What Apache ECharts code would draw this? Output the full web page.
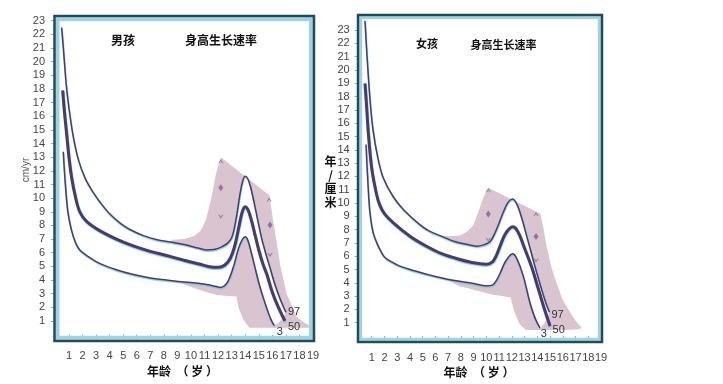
<!DOCTYPE html>
<html><head><meta charset="utf-8">
<script src="https://cdn.jsdelivr.net/npm/echarts@6/dist/echarts.min.js"></script>
<style>html,body{margin:0;padding:0;background:#fff}#c{width:723px;height:384px}</style>
</head><body><div id="c"></div>
<script>
// tick labels
const xTicks = [1,2,3,4,5,6,7,8,9,10,11,12,13,14,15,16,17,18,19];
const yTicks = [1,2,3,4,5,6,7,8,9,10,11,12,13,14,15,16,17,18,19,20,21,22,23];

// Boys height velocity percentiles [age, cm/yr]
const boys97 = [[0.46,22.5],[0.6,20.8],[0.8,18.3],[1.0,16.6],[1.3,14.6],[1.7,12.8],[2.2,11.45],[2.8,10.4],[3.3,9.7],[4.0,8.85],[4.8,8.15],[5.5,7.7],[6.5,7.25],[7.5,6.95],[8.5,6.78],[9.5,6.6],[10.5,6.35],[11.2,6.2],[11.8,6.25],[12.3,6.45],[12.7,6.7],[13.0,7.1],[13.2,7.8],[13.4,8.9],[13.6,10.2],[13.8,11.2],[14.0,11.6],[14.2,11.4],[14.4,10.8],[14.65,9.7],[14.9,8.5],[15.2,7.1],[15.5,6.0],[15.8,5.0],[16.2,3.65],[16.6,2.55],[17.0,1.65]];
const boys50 = [[0.54,17.9],[0.65,16.5],[0.83,14.7],[1.0,13.0],[1.2,11.5],[1.5,10.0],[1.8,9.0],[2.3,8.3],[3.3,7.6],[4.5,7.0],[5.75,6.5],[7.0,6.1],[8.2,5.8],[9.5,5.45],[10.7,5.15],[11.5,4.95],[12.0,4.93],[12.5,5.1],[12.9,5.6],[13.2,6.4],[13.45,7.5],[13.7,8.7],[13.85,9.2],[14.0,9.37],[14.2,9.15],[14.45,8.4],[14.7,7.4],[15.0,6.2],[15.3,5.2],[15.6,4.4],[16.0,3.1],[16.4,2.1],[16.93,1.0]];
const boys3 = [[0.58,13.4],[0.71,11.3],[0.85,9.6],[0.95,8.8],[1.2,7.6],[1.5,6.7],[1.8,6.2],[2.3,5.8],[3.3,5.2],[4.5,4.75],[5.75,4.4],[7.0,4.15],[8.2,4.0],[9.5,3.85],[10.66,3.75],[11.5,3.6],[12.2,3.46],[12.6,3.7],[12.9,4.3],[13.2,5.2],[13.5,6.3],[13.8,7.0],[14.0,7.17],[14.2,6.9],[14.45,6.0],[14.7,5.0],[15.0,3.8],[15.3,2.8],[15.6,1.9],[15.9,1.1],[16.15,0.65]];
const boysBand = [[8.6,6.95],[9.5,7.0],[10.2,7.2],[10.7,7.6],[11.1,8.4],[11.5,10.0],[11.85,11.8],[12.2,13.0],[15.8,10.2],[16.05,8.4],[16.3,6.9],[16.6,5.0],[17.05,3.0],[17.8,1.3],[18.3,0.9],[18.85,0.6],[18.7,0.5],[14.3,0.5],[13.85,1.1],[13.5,2.0],[13.35,2.8],[12.5,2.85],[11.9,2.9],[10.7,3.25],[9.7,3.6],[9.2,3.85]];
const boysDiamond = [[12.2,10.76],[15.83,8.03]];
const boysUp = [[12.2,12.7],[15.77,9.9]];
const boysDown = [[12.2,8.64],[15.83,5.83]];

// Girls height velocity percentiles [age, cm/yr]
const girls97 = [[0.47,23.7],[0.6,21.5],[0.86,17.8],[1.1,15.5],[1.5,13.3],[1.9,11.9],[2.7,10.45],[3.5,9.5],[4.8,8.35],[5.5,7.9],[6.6,7.45],[7.5,7.1],[8.7,6.85],[9.24,6.75],[9.8,6.85],[10.3,7.1],[10.7,7.8],[11.0,8.5],[11.33,9.3],[11.7,10.05],[12.06,10.3],[12.4,9.9],[12.8,8.8],[13.2,7.4],[13.6,6.0],[14.0,4.6],[14.4,3.3],[14.7,2.4],[14.95,1.8]];
const girls50 = [[0.47,19.0],[0.6,17.2],[0.73,15.3],[1.0,12.6],[1.39,10.6],[1.65,9.8],[2.0,9.2],[2.7,8.5],[4.0,7.5],[5.3,6.75],[6.6,6.15],[7.93,5.75],[9.0,5.5],[10.0,5.4],[10.5,5.6],[10.8,6.1],[11.07,6.75],[11.5,7.7],[12.06,8.22],[12.3,8.1],[12.6,7.6],[13.0,6.6],[13.55,5.2],[14.0,3.8],[14.5,2.2],[15.0,0.75]];
const girls3 = [[0.55,14.4],[0.7,11.5],[0.86,9.25],[1.1,7.8],[1.4,7.0],[1.65,6.5],[2.04,5.9],[3.0,5.35],[4.0,5.0],[5.3,4.65],[6.6,4.35],[8.0,4.1],[9.0,3.95],[10.0,3.78],[10.5,3.85],[10.8,4.2],[11.07,4.7],[11.5,5.6],[12.06,6.18],[12.4,5.8],[12.9,4.5],[13.42,2.5],[13.8,1.4],[14.2,0.6]];
const girlsBand = [[6.1,7.6],[7.0,7.5],[7.93,7.55],[8.5,7.85],[8.97,8.3],[9.36,9.3],[9.75,10.4],[10.15,11.14],[13.9,9.37],[14.25,9.2],[14.5,8.0],[14.73,6.73],[15.1,5.2],[15.5,4.0],[16.0,2.7],[16.56,1.8],[17.0,1.15],[17.5,0.6],[17.2,0.48],[16.0,0.45],[13.1,0.45],[12.6,0.9],[12.2,1.8],[11.9,2.9],[11.0,3.05],[10.5,3.1],[9.5,3.35],[8.5,3.6],[7.9,3.72],[7.1,4.15]];
const girlsDiamond = [[10.15,9.18],[13.9,7.49]];
const girlsUp = [[10.15,10.95],[13.9,9.17]];
const girlsDown = [[10.15,7.24],[13.9,5.68]];

const LINE = '#4a3a6c', PINK = '#dac4cf', MARK = '#7b6390';
const UP = 'path://M0,8L5,0L10,8L8,8L5,3.5L2,8Z';
const DOWN = 'path://M0,0L5,8L10,0L8,0L5,4.5L2,0Z';

function poly(pts, xi, fill, z, smooth) {
  return {type:'custom', xAxisIndex:xi, yAxisIndex:xi, z, silent:true, clip:false,
    data: pts,
    renderItem: (params, api) => params.dataIndex === 0 ? {
      type:'polygon', shape:{points: pts.map(p => api.coord(p)), smooth: smooth},
      style:{fill: fill, stroke: null}} : null};
}
function curve(name, data, xi, width, d, off) {
  return {type:'line', name, xAxisIndex:xi, yAxisIndex:xi, data, smooth:0.35, symbol:'none', clip:false, z:5,
    lineStyle:{color:LINE, width, shadowColor:'rgba(110,200,230,0.9)', shadowBlur:1, shadowOffsetX:0.4, shadowOffsetY:1.2},
    endLabel:{show:true, formatter:'{a}', distance:d, offset:off, fontSize:11, color:'#333', fontFamily:'Liberation Sans'}};
}
function marks(data, xi, symbol, size) {
  return {type:'scatter', xAxisIndex:xi, yAxisIndex:xi, data, symbol, symbolSize:size, z:6, silent:true,
    itemStyle:{color:MARK}};
}
function xAx(gi, offset) {
  return {type:'value', gridIndex:gi, min:0, max:19, interval:1, offset,
    axisLine:{show:false}, splitLine:{show:false},
    axisTick:{show:true, length:6, lineStyle:{color:'#aaa'}, customValues:xTicks},
    axisLabel:{customValues:xTicks, fontSize:11, color:'#444', margin:9, fontFamily:'Liberation Sans'}};
}
function yAx(gi, offset, margin) {
  return {type:'value', gridIndex:gi, min:0, max:23, interval:1, offset,
    axisLine:{show:false}, splitLine:{show:false},
    axisTick:{show:true, length:4.5, lineStyle:{color:'#aaa'}, customValues:yTicks},
    axisLabel:{customValues:yTicks, fontSize:11, color:'#444', margin, fontFamily:'Liberation Sans'}};
}
const corridor = (a, b) => a.concat(b.slice().reverse());
const CJK = 'Noto Sans CJK SC';
function txt(x, y, text, size, extra) {
  return Object.assign({type:'text', x, y, z:200, style:{text, fontSize:size, fontWeight:'bold', fill:'#111',
    fontFamily:CJK, align:'center', verticalAlign:'middle'}}, extra || {});
}

const chart = echarts.init(document.getElementById('c'), null, {renderer:'canvas'});
chart.setOption({
  animation:false,
  backgroundColor:'#fff',
  grid:[{left:55.4, top:20.7, width:257.6, height:313.9}, {left:359, top:30.1, width:242, height:305.9}],
  xAxis:[xAx(0, 6.5), xAx(1, 7)],
  yAxis:[yAx(0, 2.4, 8), yAx(1, 2.3, 7)],
  series:[
    poly(boysBand, 0, PINK, 1, 0),
    poly(corridor(boys97, boys3), 0, '#fff', 2, 0.35),
    curve('97', boys97, 0, 1.5, 2, [0,0]),
    curve('50', boys50, 0, 3, 3, [0,6]),
    curve('3', boys3, 0, 1.5, 2.5, [0,6.5]),
    marks(boysDiamond, 0, 'diamond', [5,7]),
    marks(boysUp, 0, UP, [5,4]),
    marks(boysDown, 0, DOWN, [5,4]),
    poly(girlsBand, 1, PINK, 1, 0),
    poly(corridor(girls97, girls3), 1, '#fff', 2, 0.35),
    curve('97', girls97, 1, 1.5, 2, [0,3]),
    curve('50', girls50, 1, 3, 2.5, [0,4]),
    curve('3', girls3, 1, 1.5, 1, [0,6]),
    marks(girlsDiamond, 1, 'diamond', [5,7]),
    marks(girlsUp, 1, UP, [5,4]),
    marks(girlsDown, 1, DOWN, [5,4])
  ],
  graphic:[
    {type:'rect', z:100, silent:true, shape:{x:57.5, y:19.2, width:253.5, height:318.6}, style:{fill:null, stroke:'#9fd2e3', lineWidth:4}},
    {type:'rect', z:101, silent:true, shape:{x:54.5, y:16, width:259.5, height:325}, style:{fill:null, stroke:'#214b5a', lineWidth:2.5}},
    {type:'rect', z:100, silent:true, shape:{x:360.7, y:17.7, width:238.6, height:321.6}, style:{fill:null, stroke:'#9fd2e3', lineWidth:3}},
    {type:'rect', z:101, silent:true, shape:{x:358, y:15, width:244, height:327}, style:{fill:null, stroke:'#214b5a', lineWidth:2.5}},
    txt(123, 40, '男孩', 12),
    txt(221, 40, '身高生长速率', 12),
    txt(427, 43.5, '女孩', 11),
    txt(503.5, 44.5, '身高生长速率', 11),
    txt(182.5, 371, '年龄  （ 岁 ）', 12),
    txt(479, 372, '年龄  （ 岁 ）', 12),
    txt(330.5, 182, '年\n/\n厘\n米', 12, {style:{text:'年\n/\n厘\n米', fontSize:12, fontWeight:'bold', fill:'#111', fontFamily:CJK, align:'center', verticalAlign:'middle', lineHeight:13.8}}),
    {type:'text', x:26.5, y:170, z:200, rotation:Math.PI/2, style:{text:'cm/yr', fontSize:10, fill:'#555', fontFamily:'Liberation Sans', align:'center', verticalAlign:'middle'}}
  ]
});
</script></body></html>
